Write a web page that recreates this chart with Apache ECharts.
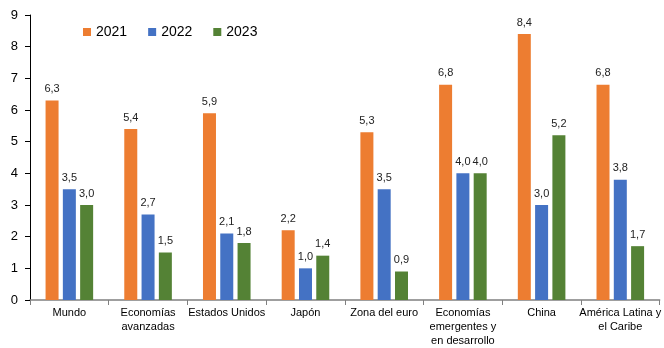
<!DOCTYPE html>
<html>
<head>
<meta charset="utf-8">
<script src="https://cdn.jsdelivr.net/npm/echarts@6/dist/echarts.min.js"></script>
<style>
  html, body { margin: 0; padding: 0; background: #fff; }
  #chart { width: 664px; height: 348px; }
</style>
</head>
<body>
<div id="chart"></div>
<script>
// Growth by region, 2021-2023 (%)
const categories = [
  'Mundo',
  'Economías\navanzadas',
  'Estados Unidos',
  'Japón',
  'Zona del euro',
  'Economías\nemergentes y\nen desarrollo',
  'China',
  'América Latina y\nel Caribe'
];
const seriesNames = ['2021', '2022', '2023'];
const values2021 = [6.3, 5.4, 5.9, 2.2, 5.3, 6.8, 8.4, 6.8];
const values2022 = [3.5, 2.7, 2.1, 1.0, 3.5, 4.0, 3.0, 3.8];
const values2023 = [3.0, 1.5, 1.8, 1.4, 0.9, 4.0, 5.2, 1.7];
const yTicks = [0, 1, 2, 3, 4, 5, 6, 7, 8, 9];

const colors = ['#ED7D31', '#4472C4', '#548235'];
const font = 'Liberation Sans, Arial, sans-serif';

const chart = echarts.init(document.getElementById('chart'), null, { renderer: 'canvas' });

const makeSeries = (name, data, color) => ({
  name: name,
  type: 'bar',
  data: data,
  barWidth: 13,
  barGap: '33%',
  itemStyle: { color: color },
  label: {
    show: true,
    position: 'top',
    distance: 6,
    color: '#222',
    fontFamily: font,
    fontSize: 11,
    formatter: p => p.value.toFixed(1).replace('.', ',')
  }
});

chart.setOption({
  animation: false,
  textStyle: { fontFamily: font },
  legend: {
    left: 83,
    top: 25,
    padding: 0,
    itemWidth: 8,
    itemHeight: 8,
    itemGap: 21,
    textStyle: { fontFamily: font, fontSize: 14, color: '#000' },
    data: seriesNames.map((n, i) => ({ name: n, icon: 'rect', itemStyle: { color: colors[i] } }))
  },
  grid: { left: 30, right: 0, top: 15, bottom: 46, containLabel: false },
  xAxis: {
    type: 'category',
    data: categories,
    axisLine: { lineStyle: { color: '#808080', width: 1.5 } },
    axisTick: { show: true, alignWithLabel: false, length: 5, lineStyle: { color: '#808080' } },
    axisLabel: {
      interval: 0,
      color: '#000',
      fontFamily: font,
      fontSize: 11,
      lineHeight: 14,
      margin: 6
    }
  },
  yAxis: {
    type: 'value',
    min: yTicks[0],
    max: yTicks[yTicks.length - 1],
    interval: 1,
    splitLine: { show: false },
    axisLine: { show: true, lineStyle: { color: '#000', width: 1 } },
    axisTick: { show: true, length: 5, lineStyle: { color: '#000' } },
    axisLabel: { color: '#000', fontFamily: font, fontSize: 13, margin: 12 }
  },
  series: [
    makeSeries(seriesNames[0], values2021, colors[0]),
    makeSeries(seriesNames[1], values2022, colors[1]),
    makeSeries(seriesNames[2], values2023, colors[2])
  ]
});
</script>
</body>
</html>
